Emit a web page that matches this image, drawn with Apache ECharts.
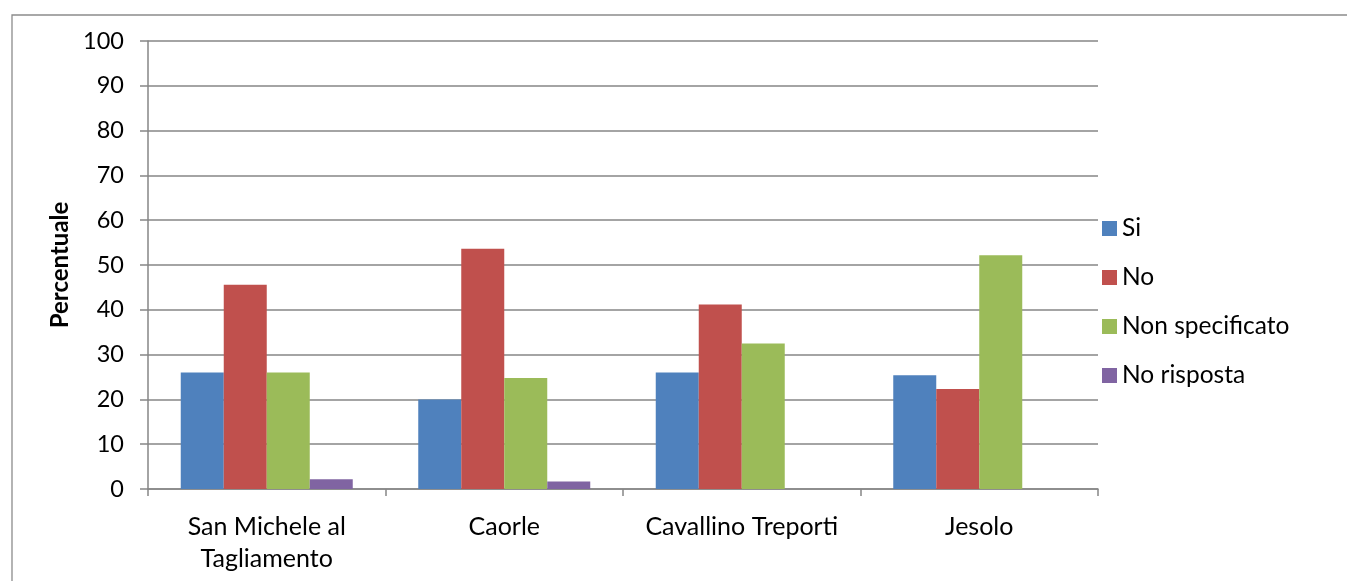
<!DOCTYPE html>
<html>
<head>
<meta charset="utf-8">
<script src="https://cdn.jsdelivr.net/npm/echarts@6/dist/echarts.min.js"></script>
<style>
  html, body { margin: 0; padding: 0; background: #ffffff; }
  #chart { width: 1347px; height: 581px; }
</style>
</head>
<body>
<div id="chart"></div>
<script>
// Comuni del litorale e risposte percentuali
const categories = ['San Michele al\nTagliamento', 'Caorle', 'Cavallino Treporti', 'Jesolo'];
const seriesNames = ['Si', 'No', 'Non specificato', 'No risposta'];
const siValues = [26.0, 20.0, 26.0, 25.4];
const noValues = [45.6, 53.6, 41.2, 22.3];
const nonSpecificatoValues = [26.0, 24.8, 32.5, 52.2];
const noRispostaValues = [2.2, 1.7, 0, 0];
const yTicks = [0, 10, 20, 30, 40, 50, 60, 70, 80, 90, 100];

const colors = ['#4F81BD', '#C0504D', '#9BBB59', '#8064A2'];
const allValues = [siValues, noValues, nonSpecificatoValues, noRispostaValues];
const fontFamily = 'Lato, "Noto Sans", sans-serif';
const axisGray = '#868686';

const chart = echarts.init(document.getElementById('chart'), null, { renderer: 'canvas' });

chart.setOption({
  animation: false,
  backgroundColor: '#ffffff',
  textStyle: { fontFamily: fontFamily, color: '#000000' },
  graphic: [{
    type: 'rect',
    left: 9.5, top: 12.5,
    shape: { width: 1400, height: 620 },
    style: { fill: 'none', stroke: '#8c8c8c', lineWidth: 1.3 },
    silent: true
  }],
  grid: { left: 148, right: 249, top: 41, bottom: 92, containLabel: false },
  legend: {
    orient: 'vertical',
    left: 1097,
    top: 211,
    itemWidth: 15,
    itemHeight: 15,
    itemGap: 24,
    icon: 'rect',
    textStyle: { fontSize: 24.5, fontFamily: fontFamily, color: '#000000' },
    data: seriesNames
  },
  xAxis: {
    type: 'category',
    data: categories,
    axisLine: { lineStyle: { color: axisGray, width: 1.5 } },
    axisTick: { show: true, length: 7, lineStyle: { color: axisGray, width: 1.5 } },
    axisLabel: {
      fontSize: 25, fontFamily: fontFamily, color: '#000000',
      margin: 22, lineHeight: 32, interval: 0
    },
    splitLine: { show: false }
  },
  yAxis: {
    type: 'value',
    min: yTicks[0],
    max: yTicks[yTicks.length - 1],
    interval: yTicks[1] - yTicks[0],
    name: 'Percentuale',
    nameLocation: 'middle',
    nameGap: 74,
    nameTextStyle: { fontSize: 24, fontWeight: 'bold', fontFamily: fontFamily, color: '#000000' },
    axisLine: { show: true, lineStyle: { color: axisGray, width: 1.5 } },
    axisTick: { show: true, length: 8, inside: false, lineStyle: { color: axisGray, width: 1.5 } },
    axisLabel: { fontSize: 23.5, fontFamily: fontFamily, color: '#000000', margin: 24 },
    splitLine: { show: true, lineStyle: { color: axisGray, width: 1.5 } }
  },
  series: seriesNames.map((name, i) => ({
    name: name,
    type: 'bar',
    data: allValues[i],
    barWidth: 43,
    barGap: '0%',
    itemStyle: { color: colors[i] }
  }))
});
</script>
</body>
</html>
